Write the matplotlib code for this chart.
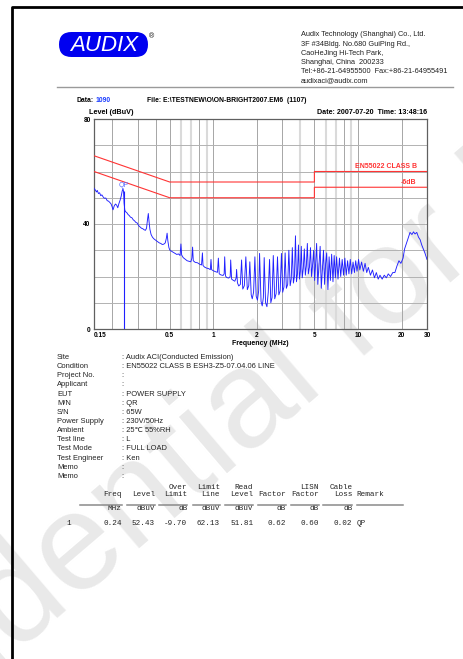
import matplotlib
matplotlib.use('Agg')
import matplotlib.pyplot as plt
from matplotlib.patches import FancyBboxPatch
from matplotlib.ticker import NullLocator

# ---------------- scan data (line, QP detector) ----------------
freq_mhz = [
    0.150, 0.153, 0.156, 0.158, 0.161, 0.164, 0.167, 0.170, 0.174, 0.177,
    0.181, 0.185, 0.189, 0.193, 0.197, 0.200, 0.203, 0.207, 0.211, 0.215,
    0.219, 0.223, 0.227, 0.231, 0.235, 0.238, 0.240, 0.242, 0.245, 0.249,
    0.253, 0.258, 0.263, 0.268, 0.274, 0.280, 0.286, 0.292, 0.298, 0.305,
    0.312, 0.319, 0.326, 0.333, 0.340, 0.346, 0.351, 0.356, 0.360, 0.365,
    0.372, 0.380, 0.388, 0.396, 0.405, 0.414, 0.424, 0.434, 0.444, 0.455,
    0.466, 0.474, 0.480, 0.486, 0.494, 0.502, 0.515, 0.530, 0.545, 0.560,
    0.575, 0.590, 0.598, 0.605, 0.62, 0.64, 0.66, 0.68, 0.70, 0.712,
    0.72, 0.728, 0.75, 0.78, 0.81, 0.83, 0.842, 0.85, 0.87, 0.90,
    0.93, 0.955, 0.965, 0.975, 1.00, 1.04, 1.07, 1.085, 1.10, 1.13,
    1.17, 1.19, 1.20, 1.215, 1.24, 1.28, 1.31, 1.32, 1.34, 1.37,
    1.41, 1.44, 1.45, 1.47, 1.50, 1.54, 1.57, 1.60, 1.64, 1.68,
    1.72, 1.76, 1.79, 1.83, 1.86, 1.90, 1.94, 1.98, 2.02, 2.06,
    2.09, 2.14, 2.18, 2.22, 2.25, 2.30, 2.35, 2.40, 2.45, 2.50,
    2.55, 2.60, 2.66, 2.72, 2.78, 2.84, 2.90, 2.96, 3.02, 3.08,
    3.14, 3.20, 3.27, 3.33, 3.40, 3.46, 3.52, 3.58, 3.64, 3.70,
    3.76, 3.82, 3.88, 3.94, 4.00, 4.06, 4.12, 4.19, 4.26, 4.33,
    4.40, 4.47, 4.54, 4.62, 4.70, 4.78, 4.86, 4.94, 5.02, 5.10,
    5.18, 5.28, 5.38, 5.48, 5.58, 5.68, 5.78, 5.88, 5.98, 6.08,
    6.20, 6.32, 6.45, 6.58, 6.72, 6.85, 6.98, 7.12, 7.28, 7.45,
    7.60, 7.78, 7.95, 8.12, 8.30, 8.48, 8.66, 8.85, 9.05, 9.25,
    9.45, 9.65, 9.85, 10.1, 10.3, 10.6, 10.9, 11.2, 11.5, 11.8,
    12.2, 12.6, 13.0, 13.4, 13.8, 14.2, 14.7, 15.2, 15.7, 16.2,
    16.8, 17.4, 18.0, 18.6, 19.2, 19.8, 20.5, 21.0, 21.6, 22.2,
    22.9, 23.6, 24.2, 24.8, 25.5, 26.2, 26.9, 27.6, 28.3, 29.0,
    29.6, 30.0,
]
level_dbuv = [
    53.6, 53.0, 52.2, 52.8, 51.6, 51.9, 50.8, 51.1, 50.2, 49.8,
    49.9, 48.9, 48.7, 48.2, 47.6, 46.6, 45.4, 46.9, 47.6, 47.2,
    46.2, 47.8, 49.0, 50.5, 52.6, 53.4, 52.4, 48.0, 45.2, 44.6,
    44.3, 43.6, 43.2, 42.6, 42.4, 41.6, 41.2, 40.6, 40.4, 39.4,
    38.9, 38.4, 38.2, 37.8, 37.6, 38.4, 41.5, 44.0, 41.0, 38.0,
    36.0, 35.0, 34.4, 34.0, 33.6, 33.2, 32.8, 32.6, 32.2, 32.3,
    32.8, 34.5, 36.5, 33.5, 31.0, 30.0, 29.6, 29.2, 28.8, 28.4,
    28.6, 28.0, 32.4, 28.2, 27.2, 26.6, 26.0, 25.8, 25.6, 27.0,
    31.2, 26.0, 25.4, 25.2, 24.6, 24.4, 29.0, 24.2, 23.6, 23.2,
    23.0, 22.6, 26.5, 22.6, 22.2, 21.8, 21.6, 27.0, 21.0, 20.6,
    20.4, 21.0, 27.5, 20.2, 19.6, 19.4, 20.0, 26.3, 19.0, 18.6,
    18.2, 19.5, 22.7, 17.6, 16.4, 17.0, 26.3, 15.2, 16.5, 27.5,
    15.0, 16.5, 25.6, 13.0, 11.5, 14.0, 27.5, 12.5, 11.0, 14.5,
    28.8, 10.5, 8.8, 12.0, 27.2, 10.0, 8.5, 14.0, 26.5, 10.0,
    12.0, 28.0, 11.5, 13.5, 27.5, 13.0, 14.5, 28.8, 14.0, 16.0,
    29.0, 15.5, 17.0, 30.0, 16.5, 19.0, 31.0, 17.5, 20.0, 35.5,
    18.0, 21.0, 32.0, 19.0, 22.0, 31.5, 19.5, 23.0, 30.5, 20.5,
    24.0, 32.6, 21.0, 23.5, 31.0, 20.0, 24.5, 30.0, 18.5, 25.0,
    32.6, 17.0, 24.0, 31.5, 15.5, 23.0, 30.0, 17.0, 25.0, 29.0,
    15.0, 27.5, 18.5, 28.5, 18.0, 28.0, 19.5, 27.5, 19.0, 27.0,
    20.0, 26.5, 20.5, 27.0, 20.5, 26.0, 21.0, 26.5, 21.0, 25.5,
    21.5, 26.0, 22.0, 26.5, 22.5, 25.5, 22.0, 25.0, 21.5, 23.5,
    20.5, 22.5, 19.5, 21.5, 19.0, 20.5, 19.0, 20.5, 19.5, 21.0,
    20.0, 21.5, 21.5, 24.0, 26.0, 25.0, 27.0, 30.5, 32.5, 34.5,
    36.8, 36.0, 37.0, 36.2, 36.8, 35.0, 34.0, 32.0, 30.5, 29.0,
    27.5, 26.5,
]

# EN55022 class B QP limit and the -6 dB margin line
limit_freq = [0.15, 0.5, 5, 5, 30]
limit_qp = [66, 56, 56, 60, 60]
limit_6db = [60, 50, 50, 54, 54]

# final QP reading
qp_freq = 0.24
qp_level = 52.43
qp_limit = 62.13
qp_read = 51.81
qp_factor = 0.62
qp_lisn = 0.60
qp_cable = 0.02

x_ticks = [0.15, 0.5, 1, 2, 5, 10, 20, 30]
x_tick_labels = ['0.15', '0.5', '1', '2', '5', '10', '20', '30']
y_ticks = [0, 40, 80]
grid_dark = [0.2, 0.3, 0.4, 0.5, 0.8, 1, 2, 3, 5, 8, 10, 20]
grid_light = [0.6, 0.7, 0.9, 4, 6, 7, 9]

address = ['Audix Technology (Shanghai) Co., Ltd.',
           '3F #34Bldg. No.680 GuiPing Rd.,',
           'CaoHeJing Hi-Tech Park,',
           'Shanghai, China  200233',
           'Tel:+86-21-64955500  Fax:+86-21-64955491',
           'audixaci@audix.com']

info_labels = ['Site', 'Condition', 'Project No.', 'Applicant', 'EUT', 'M/N',
               'S/N', 'Power Supply', 'Ambient', 'Test line', 'Test Mode',
               'Test Engineer', 'Memo', 'Memo']
info_values = ['Audix ACI(Conducted Emission)',
               'EN55022 CLASS B ESH3-Z5-07.04.06 LINE', '', '',
               'POWER SUPPLY', 'QR', '65W', '230V/50Hz', '25\u2103 55%RH', 'L',
               'FULL LOAD', 'Ken', '', '']

head1 = ['', '', 'Over', 'Limit', 'Read', '', 'LISN', 'Cable']
head2 = ['Freq', 'Level', 'Limit', 'Line', 'Level', 'Factor', 'Factor', 'Loss']
units = ['MHz', 'dBuV', 'dB', 'dBuV', 'dBuV', 'dB', 'dB', 'dB']
row1 = [qp_freq, qp_level, qp_level - qp_limit, qp_limit, qp_read,
        qp_factor, qp_lisn, qp_cable]

BLUE = '#2020ff'
RED = '#ff3434'
SANS = ['Liberation Sans', 'DejaVu Sans']
MONO = 'Liberation Mono'

W, H = 464, 659
fig = plt.figure(figsize=(W / 100, H / 100), dpi=100)

# page layer in pixel units
pg = fig.add_axes([0, 0, 1, 1], zorder=0)
pg.set_xlim(0, W)
pg.set_ylim(H, 0)
pg.axis('off')

# watermark
pg.text(-232, 865, 'Confidential for Reference', rotation=40.5,
        rotation_mode='anchor', ha='left', va='baseline', fontsize=100,
        family=SANS, color='#e9e9e9', zorder=0)

# page border
pg.plot([12, 12, W], [H, 7, 7], color='black', lw=2, solid_capstyle='butt',
        zorder=5)

# logo
pg.add_patch(FancyBboxPatch((59, 32), 89, 25,
                            boxstyle='round,pad=0,rounding_size=12.5',
                            fc='#0000f0', ec='none', zorder=5))
pg.text(104, 45.5, 'AUDIX', ha='center', va='center', fontsize=16,
        style='italic', family=SANS, color='white', zorder=6)
pg.text(152, 37, '\u00ae', ha='center', va='center', fontsize=5,
        family=SANS, color='black', zorder=6)

for i, line in enumerate(address):
    pg.text(301, 35 + 9.2 * i, line, ha='left', va='center', fontsize=5.3,
            family=SANS, color='#222222', zorder=5)
pg.plot([57, 453], [87, 87], color='#9a9a9a', lw=1, zorder=5)

# header above the plot
bold = dict(family=SANS, fontweight='bold', va='center', zorder=5)
pg.text(77, 100, 'Data:', ha='left', fontsize=4.9, color='black', **bold)
pg.text(96, 100, '1090', ha='left', fontsize=4.9, color='#1a3cff', **bold)
pg.text(147, 100, 'File: E:\\TESTNEW\\O\\ON-BRIGHT2007.EM6  (1107)',
        ha='left', fontsize=4.9, color='black', **bold)
pg.text(89, 112.7, 'Level (dBuV)', ha='left', fontsize=5.2, color='black',
        **bold)
pg.text(427, 112.7, 'Date: 2007-07-20  Time: 13:48:16', ha='right',
        fontsize=5.1, color='black', **bold)
pg.text(260, 343.5, 'Frequency (MHz)', ha='center', fontsize=5,
        color='black', **bold)

# ---------------- spectrum plot ----------------
ax = fig.add_axes([94 / W, 1 - 329 / H, 333 / W, 210 / H], zorder=1)
ax.set_facecolor('none')
ax.set_xscale('log')
ax.set_xlim(0.15, 30)
ax.set_ylim(0, 80)

for f in grid_light:
    ax.axvline(f, color='#dadada', lw=1.5, zorder=1)
for f in grid_dark:
    ax.axvline(f, color='#a6a6a6', lw=0.7, zorder=1)
for v in range(10, 80, 10):
    ax.axhline(v, color='#b2b2b2', lw=0.7, zorder=1)

ax.plot(limit_freq, limit_qp, color=RED, lw=0.8, zorder=3)
ax.plot(limit_freq, limit_6db, color=RED, lw=0.8, zorder=3)
ax.text(25.5, limit_qp[-1] + 0.6, 'EN55022 CLASS B', ha='right', va='bottom',
        fontsize=5, fontweight='bold', family=SANS, color=RED)
ax.text(25.5, limit_6db[-1] + 0.6, '-6dB', ha='right', va='bottom',
        fontsize=5, fontweight='bold', family=SANS, color=RED)

ax.plot(freq_mhz, level_dbuv, color=BLUE, lw=0.65, zorder=4)
ax.vlines(qp_freq, 0, qp_level, color=BLUE, lw=0.8, zorder=4)
ax.text(qp_freq, qp_level + 0.8, 'QP', ha='center', va='bottom', fontsize=5,
        family=SANS, color='#5a6cff', zorder=4)

ax.set_xticks(x_ticks, x_tick_labels)
ax.xaxis.set_minor_locator(NullLocator())
ax.set_yticks(y_ticks, [str(v) for v in y_ticks])
ax.tick_params(length=0, labelsize=4.7, pad=2.5)
for t in ax.get_xticklabels() + ax.get_yticklabels():
    t.set_fontweight('bold')
    t.set_family(SANS)
ax.get_xticklabels()[0].set_ha('left')
for s in ax.spines.values():
    s.set_color('#606060')
    s.set_linewidth(0.9)

# ---------------- test conditions ----------------
for i, (lab, val) in enumerate(zip(info_labels, info_values)):
    y = 357.5 + 9.15 * i
    pg.text(57, y, lab, ha='left', va='center', fontsize=5.4, family=SANS,
            color='#222222', zorder=5)
    pg.text(122, y, ': ' + val, ha='left', va='center', fontsize=5.4,
            family=SANS, color='#222222', zorder=5)

# ---------------- result table ----------------
col_right = [121.7, 155, 187.3, 220, 253.3, 286, 319, 352.3]
col_left = [80, 126.7, 159.3, 192.7, 225.3, 258.3, 291, 323.3]
mono = dict(family=MONO, fontsize=5.5, color='#222222', va='center',
            zorder=5)
for xl, xr, a, b, u, v in zip(col_left, col_right, head1, head2, units, row1):
    pg.text(xr, 487.3, a, ha='right', **mono)
    pg.text(xr, 495, b, ha='right', **mono)
    pg.text(xr, 508.6, u, ha='right', **mono)
    pg.text(xr, 523.7, f'{v:.2f}', ha='right', **mono)
    pg.plot([xl, xr], [505, 505], color='#8a8a8a', lw=1.1, zorder=5)
pg.text(356.7, 495, 'Remark', ha='left', **mono)
pg.plot([356.7, 403.3], [505, 505], color='#8a8a8a', lw=1.1, zorder=5)
pg.text(68.3, 523.7, '1', ha='center', **mono)
pg.text(356.7, 523.7, 'QP', ha='left', **mono)

fig.savefig('out.png', dpi=100)
